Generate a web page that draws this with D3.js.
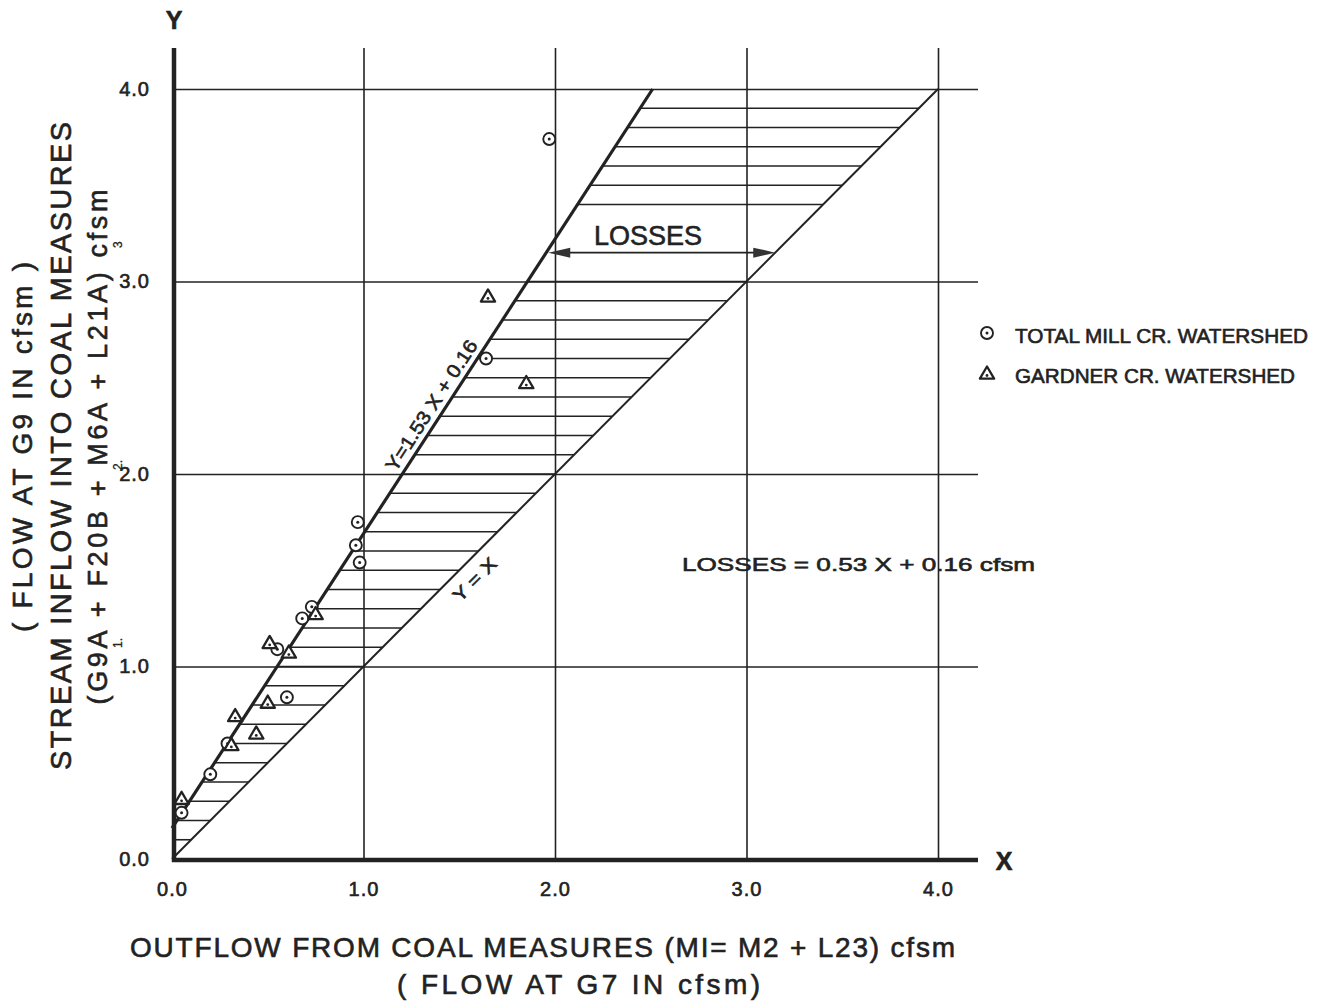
<!DOCTYPE html>
<html>
<head>
<meta charset="utf-8">
<script src="https://cdn.jsdelivr.net/npm/d3@7"></script>
<style>
  body { margin: 0; background: #fff; }
  svg text { font-family: "Liberation Sans", Arial, sans-serif; fill: #222; stroke: #222; stroke-width: 0.6px; }
</style>
</head>
<body>
<div id="chart"></div>
<script>
const w = 1328;
const h = 1003;

// Data
const tickValues = [0, 1, 2, 3, 4];
const tickLabels = ["0.0", "1.0", "2.0", "3.0", "4.0"];

const millX = [1.97, 1.64, 0.97, 0.96, 0.98, 0.73, 0.68, 0.55, 0.60, 0.29, 0.20, 0.05];
const millY = [3.74, 2.60, 1.75, 1.63, 1.54, 1.31, 1.25, 1.09, 0.84, 0.60, 0.44, 0.24];

const gardnerX = [1.65, 1.85, 0.75, 0.51, 0.61, 0.50, 0.33, 0.44, 0.31, 0.05];
const gardnerY = [2.92, 2.47, 1.27, 1.12, 1.07, 0.81, 0.74, 0.65, 0.59, 0.31];

const fitSlope = 1.53;
const fitIntercept = 0.16;
// hatch levels, gap left for the LOSSES label
const hatchLevels = d3.range(1, 40).map(i => i / 10).filter(v => !(v > 3.05 && v < 3.35));
const lossesLevel = 3.15;

const legendNames = ["TOTAL MILL CR. WATERSHED", "GARDNER CR. WATERSHED"];

// scales
const x = d3.scaleLinear().domain([0, 4]).range([172, 938]);
const y = d3.scaleLinear().domain([0, 4]).range([859, 89]);
const yTop = 48;
const xRight = 978;

const svg = d3.select('#chart').append('svg')
  .attr('width', w).attr('height', h);

svg.append('rect').attr('width', w).attr('height', h).attr('fill', '#fff');

const ink = '#222';

// grid
svg.append('g')
  .attr('transform', `translate(0,${y(0)})`)
  .call(d3.axisBottom(x).tickValues([1, 2, 3, 4]).tickSize(-(y(0) - yTop)).tickFormat(''))
  .call(g => g.select('.domain').remove())
  .call(g => g.selectAll('line').attr('stroke', ink).attr('stroke-width', 1.6));

svg.append('g')
  .attr('transform', `translate(${x(0)},0)`)
  .call(d3.axisLeft(y).tickValues([1, 2, 3, 4]).tickSize(-(xRight - x(0))).tickFormat(''))
  .call(g => g.select('.domain').remove())
  .call(g => g.selectAll('line').attr('stroke', ink).attr('stroke-width', 1.6));

// hatch between the fit line and Y = X
const fitXAt = v => Math.max(0, (v - fitIntercept) / fitSlope);
svg.append('g').selectAll('line')
  .data(hatchLevels)
  .join('line')
  .attr('x1', d => x(fitXAt(d)))
  .attr('x2', d => x(d))
  .attr('y1', d => y(d))
  .attr('y2', d => y(d))
  .attr('stroke', ink)
  .attr('stroke-width', 1.6);

// Y = X line
svg.append('line')
  .attr('x1', x(0)).attr('y1', y(0))
  .attr('x2', x(4)).attr('y2', y(4))
  .attr('stroke', ink).attr('stroke-width', 2);

// fit line
svg.append('line')
  .attr('x1', x(0)).attr('y1', y(fitIntercept))
  .attr('x2', x(fitXAt(4))).attr('y2', y(4))
  .attr('stroke', ink).attr('stroke-width', 3.2);

// axes (thick)
svg.append('line')
  .attr('x1', x(0) + 2).attr('x2', x(0) + 2)
  .attr('y1', yTop).attr('y2', y(0) + 3)
  .attr('stroke', ink).attr('stroke-width', 4.5);
svg.append('line')
  .attr('x1', x(0)).attr('x2', xRight)
  .attr('y1', y(0) + 1).attr('y2', y(0) + 1)
  .attr('stroke', ink).attr('stroke-width', 4.5);

// tick labels
svg.append('g')
  .attr('transform', `translate(0,${y(0)})`)
  .call(d3.axisBottom(x).tickValues(tickValues).tickSize(0).tickPadding(23)
    .tickFormat((d, i) => tickLabels[i]))
  .call(g => g.select('.domain').remove())
  .call(g => g.selectAll('text')
    .style('font-size', '20px').attr('letter-spacing', 1).attr('fill', ink));

svg.append('g')
  .attr('transform', `translate(${x(0)},0)`)
  .call(d3.axisLeft(y).tickValues(tickValues).tickSize(0).tickPadding(22)
    .tickFormat((d, i) => tickLabels[i]))
  .call(g => g.select('.domain').remove())
  .call(g => g.selectAll('text')
    .style('font-size', '20px').attr('letter-spacing', 1).attr('fill', ink));

// axis letters
svg.append('text').attr('x', 174).attr('y', 29).attr('text-anchor', 'middle')
  .style('font-size', '25px').style('font-weight', 'bold').text('Y');
svg.append('text').attr('x', 1004).attr('y', 870).attr('text-anchor', 'middle')
  .style('font-size', '25px').style('font-weight', 'bold').text('X');

// markers
function circleMark(g, cx, cy) {
  g.append('circle').attr('cx', cx).attr('cy', cy).attr('r', 6)
    .attr('fill', '#fff').attr('stroke', ink).attr('stroke-width', 1.9);
  g.append('circle').attr('cx', cx).attr('cy', cy).attr('r', 1.5).attr('fill', ink);
}
function triMark(g, cx, cy) {
  const s = 7.5;
  const pts = [[cx, cy - s], [cx + s * 0.95, cy + s * 0.62], [cx - s * 0.95, cy + s * 0.62]];
  g.append('path').attr('d', 'M' + pts.join('L') + 'Z')
    .attr('fill', '#fff').attr('stroke', ink).attr('stroke-width', 2.3)
    .attr('stroke-linejoin', 'round');
  g.append('circle').attr('cx', cx).attr('cy', cy + 1.5).attr('r', 1.4).attr('fill', ink);
}

const marks = svg.append('g');
millX.forEach((v, i) => circleMark(marks, x(v), y(millY[i])));
gardnerX.forEach((v, i) => triMark(marks, x(v), y(gardnerY[i])));

// losses arrow
const arrowY = y(lossesLevel);
const aL = x(fitXAt(lossesLevel)) + 2;
const aR = x(lossesLevel);
svg.append('line').attr('x1', aL + 10).attr('x2', aR - 10)
  .attr('y1', arrowY).attr('y2', arrowY).attr('stroke', ink).attr('stroke-width', 1.6);
svg.append('path')
  .attr('d', `M${aL},${arrowY}L${aL + 22},${arrowY - 5}L${aL + 22},${arrowY + 5}Z`)
  .attr('fill', '#333');
svg.append('path')
  .attr('d', `M${aR},${arrowY}L${aR - 22},${arrowY - 5}L${aR - 22},${arrowY + 5}Z`)
  .attr('fill', '#333');

svg.append('text').attr('x', 594).attr('y', 245)
  .attr('textLength', 108).attr('lengthAdjust', 'spacingAndGlyphs')
  .style('font-size', '27px').text('LOSSES');

// line labels
svg.append('text')
  .attr('transform', 'translate(437,409) rotate(-57)')
  .attr('text-anchor', 'middle')
  .attr('textLength', 152).attr('lengthAdjust', 'spacingAndGlyphs')
  .style('font-size', '19px').text('Y=1.53 X + 0.16');

svg.append('text')
  .attr('transform', 'translate(479,584) rotate(-45)')
  .attr('text-anchor', 'middle')
  .attr('textLength', 54).attr('lengthAdjust', 'spacingAndGlyphs')
  .style('font-size', '18px').text('Y = X');

svg.append('text').attr('x', 682).attr('y', 571)
  .attr('textLength', 353).attr('lengthAdjust', 'spacingAndGlyphs')
  .style('font-size', '19px').text('LOSSES  =  0.53 X + 0.16  cfsm');

// legend
const legend = svg.append('g');
circleMark(legend, 987, 333);
triMark(legend, 987, 374);
legend.append('text').attr('x', 1015).attr('y', 343)
  .attr('textLength', 293).attr('lengthAdjust', 'spacingAndGlyphs')
  .style('font-size', '20px').text(legendNames[0]);
legend.append('text').attr('x', 1015).attr('y', 383)
  .attr('textLength', 280).attr('lengthAdjust', 'spacingAndGlyphs')
  .style('font-size', '20px').text(legendNames[1]);

// x axis title
svg.append('text').attr('x', 130).attr('y', 957)
  .attr('textLength', 825).attr('lengthAdjust', 'spacing')
  .style('font-size', '28px').text('OUTFLOW  FROM  COAL  MEASURES  (MI= M2 + L23)  cfsm');
svg.append('text').attr('x', 397).attr('y', 994)
  .attr('textLength', 363).attr('lengthAdjust', 'spacing')
  .style('font-size', '28px').text('( FLOW  AT  G7  IN  cfsm)');

// y axis titles
function yTitle(cx, cy, len, size, txt) {
  svg.append('text')
    .attr('transform', `translate(${cx},${cy}) rotate(-90)`)
    .attr('text-anchor', 'middle')
    .attr('textLength', len).attr('lengthAdjust', 'spacing')
    .style('font-size', size + 'px').text(txt);
}
yTitle(32, 447, 370, 28, '( FLOW  AT  G9  IN  cfsm )');
yTitle(71, 446, 648, 29, 'STREAM  INFLOW  INTO  COAL  MEASURES');
yTitle(107, 447, 515, 27, '(G9A + F20B + M6A + L21A) cfsm');

// small reference numbers on the y title
[["1.", 122, 648], ["2.", 122, 470], ["3", 122, 248]].forEach(([t, tx, ty]) => {
  svg.append('text')
    .attr('transform', `translate(${tx},${ty}) rotate(-90)`)
    .style('font-size', '12px').style('stroke-width', '0.3px').text(t);
});
</script>
</body>
</html>
